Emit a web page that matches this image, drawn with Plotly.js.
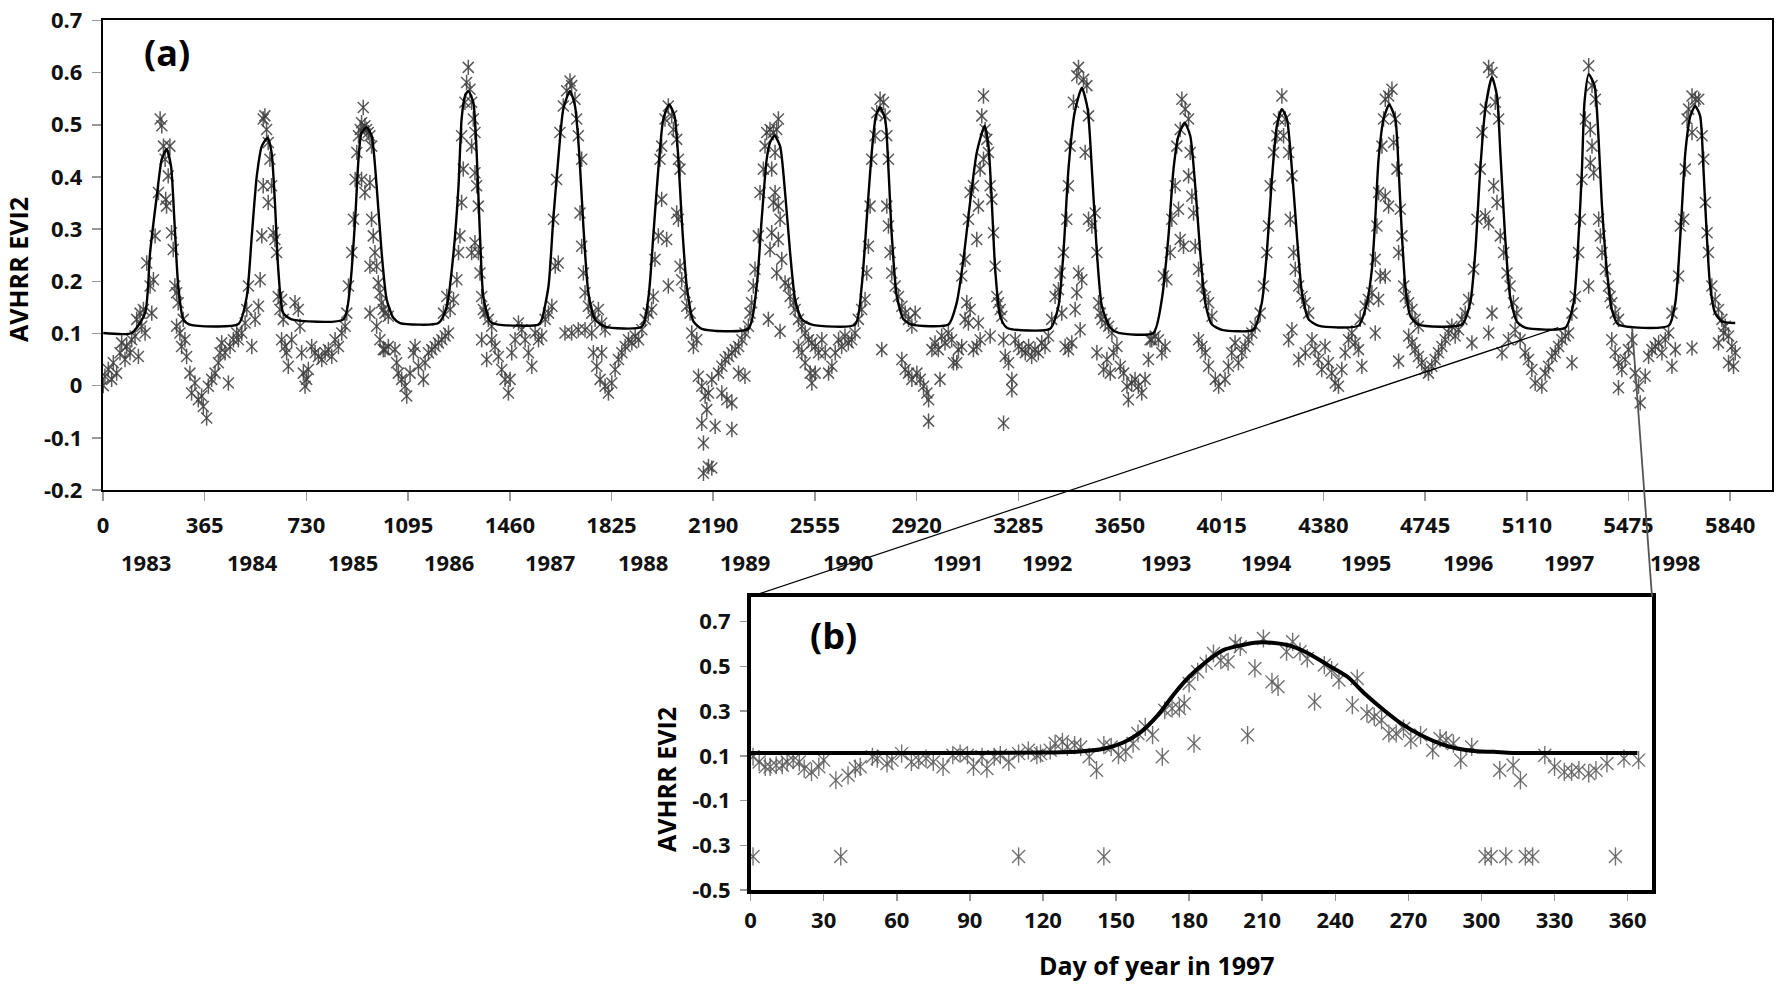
<!DOCTYPE html>
<html><head><meta charset="utf-8">
<script src="https://cdn.plot.ly/plotly-3.0.1.min.js"></script>
<style>html,body{margin:0;padding:0;background:#fff}#chart{width:1777px;height:984px}</style>
</head><body><div id="chart"></div>
<script>
// ---------- DATA ----------
// Panel (a): observed AVHRR EVI2, [day since 1 Jan 1983, value]
const obs1983 = [[1,0.0],[7,0.018],[19,0.031],[31,0.012],[37,0.044],[49,0.024],[61,0.063],[67,0.082],[79,0.05],[85,0.075],[97,0.063],[103,0.088],[115,0.095],[121,0.127],[127,0.056],[133,0.139],[139,0.114],[145,0.146],[151,0.101],[157,0.235],[169,0.191],[175,0.139],[181,0.203],[187,0.287],[199,0.37],[205,0.511],[211,0.498],[217,0.459],[223,0.434],[225,0.357],[228,0.344],[234,0.402],[240,0.459],[246,0.293],[252,0.261],[258,0.191],[264,0.178],[270,0.159],[264,0.114],[276,0.101],[282,0.075],[288,0.127],[294,0.088],[300,0.056],[312,0.024],[318,-0.014],[330,0.005],[342,-0.027],[354,-0.02],[360,-0.04]];
const obs1984 = [[372,-0.062],[378,-0.001],[390,0.012],[402,0.024],[414,0.044],[420,0.063],[426,0.082],[438,0.063],[450,0.005],[456,0.075],[468,0.088],[480,0.101],[486,0.088],[498,0.101],[510,0.12],[516,0.146],[522,0.191],[534,0.075],[546,0.127],[558,0.152],[564,0.203],[570,0.287],[575,0.383],[575,0.511],[581,0.517],[587,0.491],[593,0.466],[599,0.434],[605,0.383],[593,0.351],[611,0.293],[617,0.28],[623,0.255],[629,0.171],[635,0.146],[641,0.165],[647,0.127],[641,0.088],[653,0.075],[659,0.063],[665,0.037],[677,0.088],[689,0.159],[701,0.146],[707,0.114],[713,0.063],[719,0.024],[725,-0.001]];
const obs1985 = [[731,0.012],[737,0.031],[749,0.075],[761,0.063],[773,0.056],[785,0.05],[797,0.063],[809,0.069],[821,0.056],[833,0.088],[845,0.075],[857,0.101],[869,0.114],[875,0.139],[881,0.191],[893,0.255],[899,0.319],[905,0.395],[911,0.447],[917,0.479],[923,0.491],[928,0.504],[934,0.533],[940,0.498],[946,0.491],[952,0.485],[958,0.479],[964,0.459],[928,0.395],[940,0.37],[958,0.389],[964,0.319],[970,0.287],[976,0.255],[958,0.229],[982,0.229],[988,0.197],[994,0.178],[1000,0.159],[1006,0.146],[1012,0.139],[1024,0.133],[958,0.139],[982,0.114],[994,0.088],[1006,0.069],[1012,0.069],[1024,0.075],[1048,0.069],[1054,0.044],[1060,0.024],[1072,0.012],[1084,-0.001],[1090,-0.02]];
const obs1986 = [[1102,0.024],[1114,0.063],[1120,0.075],[1132,0.037],[1150,0.012],[1156,0.044],[1168,0.063],[1180,0.069],[1192,0.075],[1204,0.082],[1216,0.088],[1228,0.095],[1240,0.101],[1222,0.139],[1234,0.171],[1246,0.146],[1258,0.165],[1270,0.203],[1276,0.255],[1281,0.287],[1287,0.351],[1293,0.415],[1287,0.479],[1299,0.543],[1305,0.581],[1311,0.61],[1317,0.568],[1323,0.543],[1329,0.511],[1335,0.485],[1323,0.459],[1335,0.408],[1341,0.383],[1347,0.344],[1335,0.274],[1323,0.255],[1347,0.255],[1353,0.216],[1359,0.171],[1365,0.146],[1371,0.139],[1383,0.127],[1395,0.114],[1359,0.088],[1377,0.05],[1395,0.088],[1407,0.075],[1419,0.056],[1431,0.031],[1443,0.012],[1455,-0.014]];
const obs1987 = [[1461,0.012],[1467,0.063],[1479,0.088],[1491,0.12],[1503,0.107],[1515,0.088],[1527,0.063],[1539,0.037],[1551,0.101],[1563,0.088],[1575,0.095],[1587,0.127],[1599,0.139],[1611,0.152],[1623,0.229],[1617,0.319],[1628,0.395],[1640,0.485],[1652,0.536],[1664,0.565],[1676,0.584],[1682,0.575],[1694,0.549],[1700,0.511],[1706,0.479],[1718,0.434],[1712,0.331],[1718,0.267],[1724,0.216],[1730,0.178],[1742,0.152],[1754,0.139],[1766,0.127],[1778,0.146],[1790,0.12],[1802,0.107],[1634,0.235],[1658,0.101],[1682,0.101],[1706,0.107],[1730,0.107],[1754,0.101],[1760,0.063],[1772,0.037],[1784,0.012],[1790,0.063],[1802,-0.001],[1814,-0.014]];
const obs1988 = [[1826,0.005],[1838,0.031],[1850,0.05],[1862,0.063],[1874,0.075],[1886,0.088],[1898,0.082],[1910,0.095],[1922,0.088],[1934,0.107],[1946,0.127],[1957,0.139],[1969,0.146],[1975,0.171],[1981,0.242],[1993,0.287],[2005,0.357],[1999,0.434],[2005,0.459],[2017,0.511],[2029,0.536],[2041,0.517],[2047,0.491],[2059,0.472],[2065,0.434],[2071,0.415],[2059,0.331],[2065,0.319],[2023,0.28],[2029,0.191],[2071,0.229],[2077,0.203],[2089,0.178],[2095,0.152],[2107,0.139],[2113,0.101],[2119,0.075],[2131,0.088],[2137,0.018],[2149,-0.001],[2161,-0.02],[2173,-0.014],[2167,-0.046],[2149,-0.072],[2155,-0.11],[2173,-0.155],[2185,-0.158],[2155,-0.168]];
const obs1989 = [[2185,0.012],[2197,-0.078],[2257,-0.084],[2209,0.024],[2221,0.037],[2233,0.05],[2245,0.056],[2257,0.063],[2269,0.069],[2281,0.075],[2293,0.088],[2304,0.101],[2316,0.114],[2322,0.139],[2328,0.159],[2334,0.191],[2221,-0.014],[2239,-0.027],[2257,-0.033],[2281,0.024],[2304,0.018],[2340,0.223],[2352,0.287],[2358,0.37],[2370,0.415],[2376,0.459],[2382,0.485],[2394,0.491],[2406,0.485],[2418,0.491],[2424,0.511],[2412,0.447],[2400,0.415],[2412,0.37],[2406,0.351],[2424,0.344],[2430,0.319],[2400,0.293],[2394,0.261],[2424,0.28],[2436,0.242],[2418,0.216],[2448,0.197],[2460,0.191],[2466,0.171],[2478,0.159],[2484,0.146],[2388,0.127],[2430,0.104],[2496,0.127],[2508,0.114],[2520,0.101],[2532,0.088],[2544,0.082],[2496,0.075],[2508,0.063],[2520,0.044],[2538,0.024],[2544,0.005]];
const obs1990 = [[2556,0.075],[2556,0.024],[2568,0.063],[2580,0.088],[2592,0.063],[2604,0.024],[2616,0.037],[2628,0.063],[2640,0.088],[2651,0.075],[2663,0.095],[2675,0.082],[2687,0.088],[2699,0.101],[2711,0.127],[2723,0.146],[2735,0.165],[2741,0.216],[2747,0.267],[2753,0.344],[2759,0.434],[2771,0.479],[2777,0.523],[2789,0.549],[2801,0.543],[2807,0.517],[2813,0.479],[2819,0.434],[2813,0.344],[2819,0.306],[2825,0.255],[2831,0.216],[2843,0.191],[2855,0.171],[2867,0.152],[2879,0.139],[2891,0.127],[2903,0.114],[2795,0.069],[2867,0.05],[2879,0.031],[2891,0.024],[2903,0.012]];
const obs1991 = [[2915,0.139],[2921,0.024],[2933,0.012],[2945,-0.001],[2957,-0.014],[2963,-0.027],[2963,-0.068],[2975,0.069],[2986,0.082],[2998,0.069],[3004,0.012],[3010,0.095],[3022,0.082],[3034,0.101],[3046,0.088],[3052,0.044],[3064,0.044],[3070,0.069],[3082,0.075],[3094,0.127],[3100,0.159],[3106,0.12],[3112,0.146],[3124,0.069],[3136,0.075],[3142,0.12],[3148,0.088],[3082,0.21],[3094,0.242],[3106,0.319],[3112,0.37],[3124,0.383],[3136,0.28],[3142,0.344],[3148,0.415],[3154,0.517],[3160,0.555],[3166,0.491],[3160,0.434],[3172,0.472],[3178,0.447],[3184,0.383],[3190,0.357],[3196,0.293],[3202,0.229],[3208,0.171],[3214,0.159],[3220,0.146],[3184,0.095],[3226,0.133],[3232,0.088],[3238,0.056],[3250,0.044],[3262,0.012],[3262,-0.008],[3232,-0.072],[3274,0.088]];
const obs1992 = [[3286,0.075],[3298,0.069],[3310,0.063],[3322,0.075],[3333,0.056],[3345,0.069],[3357,0.063],[3369,0.082],[3381,0.075],[3393,0.095],[3405,0.127],[3417,0.171],[3429,0.184],[3441,0.139],[3453,0.075],[3465,0.069],[3477,0.082],[3489,0.146],[3495,0.178],[3501,0.216],[3507,0.107],[3513,0.203],[3435,0.216],[3447,0.255],[3459,0.319],[3465,0.383],[3471,0.459],[3483,0.543],[3495,0.594],[3501,0.61],[3519,0.587],[3531,0.575],[3537,0.517],[3525,0.447],[3537,0.319],[3549,0.306],[3561,0.331],[3567,0.255],[3573,0.159],[3579,0.139],[3585,0.127],[3597,0.12],[3609,0.114],[3621,0.101],[3567,0.063],[3591,0.031],[3603,0.05],[3615,0.024],[3627,0.063],[3639,0.075],[3651,0.037]];
const obs1993 = [[3663,0.024],[3675,-0.001],[3680,-0.027],[3692,0.005],[3704,0.012],[3716,-0.001],[3728,-0.014],[3740,0.012],[3752,0.05],[3758,0.088],[3764,0.088],[3776,0.095],[3788,0.088],[3800,0.063],[3812,0.075],[3806,0.21],[3818,0.203],[3830,0.255],[3836,0.319],[3848,0.383],[3854,0.459],[3866,0.491],[3872,0.549],[3884,0.53],[3896,0.511],[3902,0.447],[3896,0.402],[3860,0.338],[3866,0.28],[3878,0.267],[3908,0.363],[3914,0.331],[3920,0.267],[3932,0.223],[3944,0.191],[3956,0.171],[3968,0.159],[3980,0.133],[3932,0.088],[3944,0.075],[3956,0.063],[3968,0.037],[3992,0.012],[4004,-0.001],[4027,0.012],[4039,0.037]];
const obs1994 = [[4051,0.063],[4063,0.082],[4075,0.044],[4087,0.063],[4099,0.075],[4111,0.088],[4123,0.101],[4135,0.114],[4153,0.139],[4165,0.191],[4177,0.255],[4183,0.306],[4189,0.383],[4201,0.447],[4213,0.479],[4219,0.511],[4231,0.555],[4243,0.511],[4237,0.479],[4255,0.447],[4267,0.402],[4261,0.319],[4273,0.255],[4279,0.223],[4291,0.191],[4303,0.171],[4315,0.159],[4327,0.139],[4255,0.088],[4267,0.107],[4291,0.05],[4315,0.063],[4339,0.088],[4350,0.069],[4362,0.05],[4374,0.031]];
const obs1995 = [[4386,0.075],[4398,0.044],[4410,0.024],[4422,0.005],[4434,-0.001],[4446,0.031],[4458,0.063],[4470,0.088],[4482,0.101],[4494,0.082],[4506,0.069],[4518,0.037],[4512,0.127],[4530,0.152],[4542,0.165],[4554,0.178],[4566,0.101],[4578,0.165],[4584,0.21],[4602,0.21],[4566,0.242],[4572,0.306],[4578,0.37],[4590,0.459],[4596,0.511],[4602,0.549],[4614,0.555],[4626,0.568],[4638,0.511],[4632,0.466],[4644,0.415],[4602,0.363],[4614,0.344],[4656,0.338],[4662,0.287],[4650,0.255],[4668,0.191],[4674,0.171],[4686,0.159],[4698,0.146],[4709,0.127],[4721,0.114],[4686,0.095],[4698,0.082],[4709,0.069],[4721,0.056],[4733,0.044],[4745,0.031],[4650,0.047]];
const obs1996 = [[4757,0.024],[4769,0.037],[4781,0.05],[4793,0.063],[4805,0.075],[4817,0.088],[4829,0.101],[4841,0.114],[4853,0.095],[4865,0.107],[4877,0.127],[4889,0.139],[4913,0.082],[4901,0.165],[4919,0.223],[4931,0.319],[4943,0.415],[4949,0.485],[4961,0.53],[4973,0.61],[4985,0.6],[4997,0.543],[5009,0.511],[4961,0.325],[4973,0.312],[4991,0.383],[5003,0.351],[5015,0.287],[5027,0.255],[5039,0.216],[5050,0.191],[5062,0.159],[5074,0.139],[4985,0.139],[4973,0.101],[5021,0.063],[5044,0.088],[5068,0.107],[5086,0.088],[5104,0.063]];
const obs1997 = [[5116,0.05],[5128,0.031],[5140,0.005],[5164,-0.001],[5176,0.024],[5188,0.037],[5200,0.056],[5212,0.063],[5224,0.075],[5236,0.088],[5248,0.095],[5260,0.101],[5272,0.044],[5272,0.139],[5284,0.171],[5296,0.255],[5302,0.319],[5308,0.395],[5320,0.511],[5332,0.613],[5344,0.575],[5356,0.549],[5338,0.491],[5344,0.459],[5338,0.427],[5350,0.408],[5368,0.319],[5374,0.287],[5380,0.255],[5392,0.223],[5403,0.191],[5409,0.171],[5415,0.159],[5427,0.139],[5439,0.127],[5332,0.191],[5415,0.088],[5427,0.063],[5439,0.044],[5451,0.031],[5463,0.05],[5475,0.069],[5439,-0.004]];
const obs1998 = [[5487,0.088],[5499,0.024],[5511,-0.001],[5517,-0.033],[5535,0.018],[5547,0.056],[5559,0.069],[5571,0.075],[5583,0.082],[5595,0.063],[5607,0.088],[5619,0.101],[5631,0.037],[5643,0.069],[5631,0.139],[5655,0.21],[5661,0.306],[5673,0.319],[5679,0.415],[5685,0.511],[5691,0.53],[5703,0.555],[5715,0.549],[5727,0.549],[5739,0.479],[5745,0.434],[5703,0.485],[5751,0.351],[5757,0.293],[5762,0.255],[5774,0.191],[5786,0.165],[5798,0.146],[5810,0.127],[5822,0.114],[5834,0.095],[5846,0.075],[5858,0.063],[5834,0.044],[5852,0.037],[5703,0.072],[5798,0.082],[5816,0.101]];

// Panel (a): fitted curve
const fitDay = [1,103,151,169,193,211,228,244,256,270,288,312, 486,516,534,552,570,591,605,617,629,647,677, 863,887,905,917,928,946,964,982,1000,1018,1042,1066, 1204,1234,1258,1276,1287,1299,1311,1329,1341,1353,1365,1389,1419, 1563,1575,1599,1616,1634,1652,1676,1694,1709,1724,1742,1766,1802, 1934,1958,1975,1993,2011,2032,2051,2065,2077,2095,2119,2149, 2316,2346,2364,2382,2394,2410,2430,2448,2466,2484,2508,2544, 2699,2723,2741,2759,2774,2789,2807,2819,2831,2849,2873,2903, 3034,3064,3088,3112,3136,3164,3178,3190,3202,3220,3244, 3399,3429,3447,3465,3487,3513,3534,3549,3567,3585,3615,3645, 3770,3800,3824,3842,3860,3882,3902,3920,3938,3956,3980,4016, 4129,4159,4177,4195,4213,4231,4249,4267,4285,4303,4327,4362, 4506,4536,4554,4566,4578,4596,4616,4638,4650,4662,4674,4692,4721, 4877,4907,4925,4943,4961,4985,5003,5015,5032,5050,5074,5104, 5248,5278,5296,5308,5317,5332,5353,5367,5379,5397,5415,5439, 5619,5643,5661,5679,5697,5714,5732,5744,5756,5768,5786,5810,5858];
const fitVal = [0.101,0.101,0.139,0.255,0.363,0.434,0.453,0.421,0.319,0.191,0.127,0.117, 0.118,0.171,0.287,0.402,0.459,0.475,0.447,0.351,0.223,0.139,0.127, 0.127,0.191,0.319,0.434,0.485,0.495,0.479,0.383,0.255,0.165,0.13,0.12, 0.12,0.152,0.255,0.383,0.511,0.555,0.565,0.543,0.447,0.287,0.171,0.123,0.117, 0.117,0.127,0.191,0.319,0.434,0.53,0.565,0.536,0.447,0.306,0.178,0.127,0.113, 0.113,0.171,0.287,0.415,0.511,0.539,0.517,0.434,0.319,0.191,0.123,0.109, 0.109,0.191,0.319,0.434,0.466,0.479,0.459,0.37,0.255,0.165,0.127,0.117, 0.117,0.191,0.319,0.447,0.517,0.533,0.511,0.415,0.287,0.171,0.127,0.117, 0.117,0.159,0.242,0.351,0.447,0.498,0.459,0.351,0.223,0.133,0.111, 0.109,0.152,0.255,0.415,0.523,0.571,0.53,0.415,0.255,0.152,0.111,0.101, 0.101,0.165,0.287,0.415,0.479,0.504,0.479,0.383,0.255,0.159,0.117,0.107, 0.107,0.159,0.255,0.395,0.498,0.53,0.511,0.415,0.287,0.178,0.127,0.115, 0.115,0.159,0.223,0.319,0.434,0.511,0.539,0.511,0.415,0.287,0.191,0.133,0.117, 0.117,0.159,0.255,0.415,0.53,0.591,0.555,0.447,0.287,0.171,0.123,0.111, 0.111,0.159,0.287,0.415,0.543,0.597,0.575,0.479,0.351,0.223,0.146,0.117, 0.115,0.159,0.287,0.447,0.517,0.536,0.517,0.415,0.287,0.191,0.139,0.123,0.12];

const dayTicks = [0,365,730,1095,1460,1825,2190,2555,2920,3285,3650,4015,4380,4745,5110,5475,5840];
const yearNames = ['1983','1984','1985','1986','1987','1988','1989','1990','1991','1992','1993','1994','1995','1996','1997','1998'];
const yearLabelDay = [154,538,897,1242,1604,1938,2304,2674,3069,3389,3816,4175,4534,4900,5262,5643];
const aYTicks = [-0.2,-0.1,0,0.1,0.2,0.3,0.4,0.5,0.6,0.7];
const aYText = ['-0.2','-0.1','0','0.1','0.2','0.3','0.4','0.5','0.6','0.7'];

// Panel (b): 1997 only, [day of year, value]
const obsB = [[1,0.096],[3.5,0.073],[6,0.051],[8,0.051],[10.5,0.058],[13,0.058],[15,0.073],[17.5,0.081],[20,0.073],[22,0.043],[25,0.028],[28,0.051],[30,0.081],[35,-0.009],[40,0.013],[43,0.043],[45,0.051],[50,0.096],[52,0.088],[56,0.066],[58,0.081],[62,0.11],[66,0.073],[69,0.081],[72,0.088],[75,0.073],[79,0.051],[83,0.103],[86,0.11],[89,0.103],[91.5,0.051],[95,0.096],[97,0.043],[100,0.096],[102.5,0.103],[106,0.073],[110,0.11],[114,0.125],[117.5,0.103],[119,0.11],[123,0.125],[125,0.155],[128,0.163],[130,0.14],[133,0.148],[135.5,0.14],[139,0.096],[142,0.036],[145,0.148],[148,0.14],[151,0.103],[154,0.118],[157,0.155],[159,0.2],[162,0.23],[165,0.193],[169,0.096],[170,0.304],[173,0.312],[176,0.312],[178,0.334],[180,0.424],[182,0.155],[183.5,0.476],[187,0.513],[190,0.558],[193,0.528],[196,0.521],[199,0.603],[204,0.193],[201,0.588],[207,0.491],[210.5,0.625],[214,0.431],[216.5,0.409],[220,0.566],[222.5,0.61],[225.5,0.566],[228.5,0.536],[231.5,0.342],[235.5,0.506],[238.5,0.484],[241.5,0.439],[247,0.327],[249,0.446],[253,0.29],[256,0.275],[259,0.26],[262,0.2],[265,0.2],[268,0.222],[271,0.17],[275,0.193],[280,0.125],[283,0.178],[285.5,0.17],[288.5,0.155],[291.5,0.081],[296,0.14],[307.5,0.036],[313,0.058],[316,-0.009],[326,0.103],[330,0.051],[334,0.028],[337,0.028],[340,0.036],[344,0.021],[347,0.036],[351.5,0.066],[358.5,0.088],[364.5,0.081],[1,-0.35],[37,-0.35],[110,-0.35],[145,-0.35],[301.5,-0.35],[304,-0.35],[310,-0.35],[318,-0.35],[321,-0.35],[355,-0.35]];
const fitDayB = [0,60,120,135,145,153,160,167,174,180,187,194,202,208,214,222,229,237,245,252,260,267,275,283,290,298,305,313,340,364];
const fitValB = [0.113,0.113,0.115,0.12,0.132,0.16,0.205,0.28,0.379,0.454,0.521,0.573,0.596,0.607,0.606,0.591,0.558,0.506,0.454,0.379,0.304,0.245,0.193,0.155,0.133,0.121,0.118,0.113,0.113,0.113];
const bXTicks = [0,30,60,90,120,150,180,210,240,270,300,330,360];
const bYTicks = [-0.5,-0.3,-0.1,0.1,0.3,0.5,0.7];
const bYText = ['-0.5','-0.3','-0.1','0.1','0.3','0.5','0.7'];
// zoom connector anchors on panel (a): [day, value]
const zoomStart = [5223, 0.111];
const zoomEnd = [5488, 0.111];

// ---------- LAYOUT ----------
const W = 1777, H = 984;
const A = {l:103, r:1772, t:20.4, b:490, xr:[0,5990], yr:[-0.2,0.7]};
const B = {l:750.6, r:1652, t:596.7, b:890, xr:[0,370], yr:[-0.5,0.812]};
const dom = (p) => ({x:[p.l/W, p.r/W], y:[1-p.b/H, 1-p.t/H]});
const dA = dom(A), dB = dom(B);

const obsA = [].concat(obs1983,obs1984,obs1985,obs1986,obs1987,obs1988,obs1989,obs1990,obs1991,obs1992,obs1993,obs1994,obs1995,obs1996,obs1997,obs1998);

const F = 'Open Sans, Arial, sans-serif';
const tickFont = {family:F, size:22, color:'#111', weight:'bold'};

function starTraces(pts, xa, ya, size, color, w){
  const xs = pts.map(p=>p[0]), ys = pts.map(p=>p[1]);
  return ['x-thin-open','line-ns-open'].map(sym => ({
    type:'scatter', mode:'markers', x:xs, y:ys, xaxis:xa, yaxis:ya, hoverinfo:'skip',
    marker:{symbol:sym, size:size, color:color, line:{color:color, width:w}}
  }));
}

const traces = [
  ...starTraces(obsA, 'x', 'y', 11, 'rgba(62,62,62,0.85)', 1.5),
  {type:'scatter', mode:'lines', x:fitDay, y:fitVal, xaxis:'x', yaxis:'y',
   line:{color:'#000', width:2.4, shape:'spline', smoothing:0.6}, hoverinfo:'skip'},
  ...starTraces(obsB, 'x2', 'y2', 13, 'rgba(90,90,90,0.85)', 1.4),
  {type:'scatter', mode:'lines', x:fitDayB, y:fitValB, xaxis:'x2', yaxis:'y2',
   line:{color:'#000', width:4, shape:'spline', smoothing:0.8}, hoverinfo:'skip'}
];

// paper coords of a data point in panel (a)
const toPaperA = (d, v) => [dA.x[0] + (d - A.xr[0])/(A.xr[1]-A.xr[0])*(dA.x[1]-dA.x[0]),
                            dA.y[0] + (v - A.yr[0])/(A.yr[1]-A.yr[0])*(dA.y[1]-dA.y[0])];
const p1 = toPaperA(zoomStart[0], zoomStart[1]);
const p2 = toPaperA(zoomEnd[0], zoomEnd[1]);

const ann = (text, x, y, size, extra) => Object.assign({text:text, x:x/W, y:1-y/H, xref:'paper', yref:'paper',
  xanchor:'center', yanchor:'middle', showarrow:false, font:{family:F, size:size, color:'#000', weight:'bold'}}, extra||{});
const annotations = [
  ann('(a)', 167, 52, 36),
  ann('(b)', 833, 635, 36),
  ann('AVHRR EVI2', 18, 270, 25, {textangle:-90}),
  ann('AVHRR EVI2', 666, 780, 25, {textangle:-90}),
  ann('Day of year in 1997', 1157, 965, 25)
];
yearNames.forEach((n,i)=>annotations.push({text:n, x:yearLabelDay[i], xref:'x', y:1-562/H, yref:'paper',
  xanchor:'center', yanchor:'middle', showarrow:false, font:tickFont}));

const shapes = [
  {type:'line', xref:'paper', yref:'paper', x0:dB.x[0], y0:dB.y[1], x1:p1[0], y1:p1[1], line:{color:'#000', width:1.3}},
  {type:'line', xref:'paper', yref:'paper', x0:dB.x[1], y0:dB.y[1], x1:p2[0], y1:p2[1], line:{color:'#555', width:1.8}}
];

const axBase = {showgrid:false, zeroline:false, showline:true, linecolor:'#000', mirror:true,
  ticks:'outside', tickcolor:'#999', tickwidth:1.5, tickfont:tickFont};

const layout = {
  width:W, height:H, margin:{l:0,r:0,t:0,b:0}, paper_bgcolor:'#fff', plot_bgcolor:'#fff', showlegend:false,
  xaxis: Object.assign({}, axBase, {domain:dA.x, range:A.xr, anchor:'y', tickvals:dayTicks, ticklen:9, linewidth:2.2, ticklabelstandoff:5}),
  yaxis: Object.assign({}, axBase, {domain:dA.y, range:A.yr, anchor:'x', tickvals:aYTicks, ticktext:aYText, ticklen:9, linewidth:2.2, ticklabelstandoff:5}),
  xaxis2: Object.assign({}, axBase, {domain:dB.x, range:B.xr, anchor:'y2', tickvals:bXTicks, ticklen:7, linewidth:3.5, ticklabelstandoff:1}),
  yaxis2: Object.assign({}, axBase, {domain:dB.y, range:B.yr, anchor:'x2', tickvals:bYTicks, ticktext:bYText, ticklen:7, linewidth:3.5, ticklabelstandoff:5}),
  annotations: annotations, shapes: shapes
};

Plotly.newPlot('chart', traces, layout, {displayModeBar:false, staticPlot:true});
</script></body></html>
